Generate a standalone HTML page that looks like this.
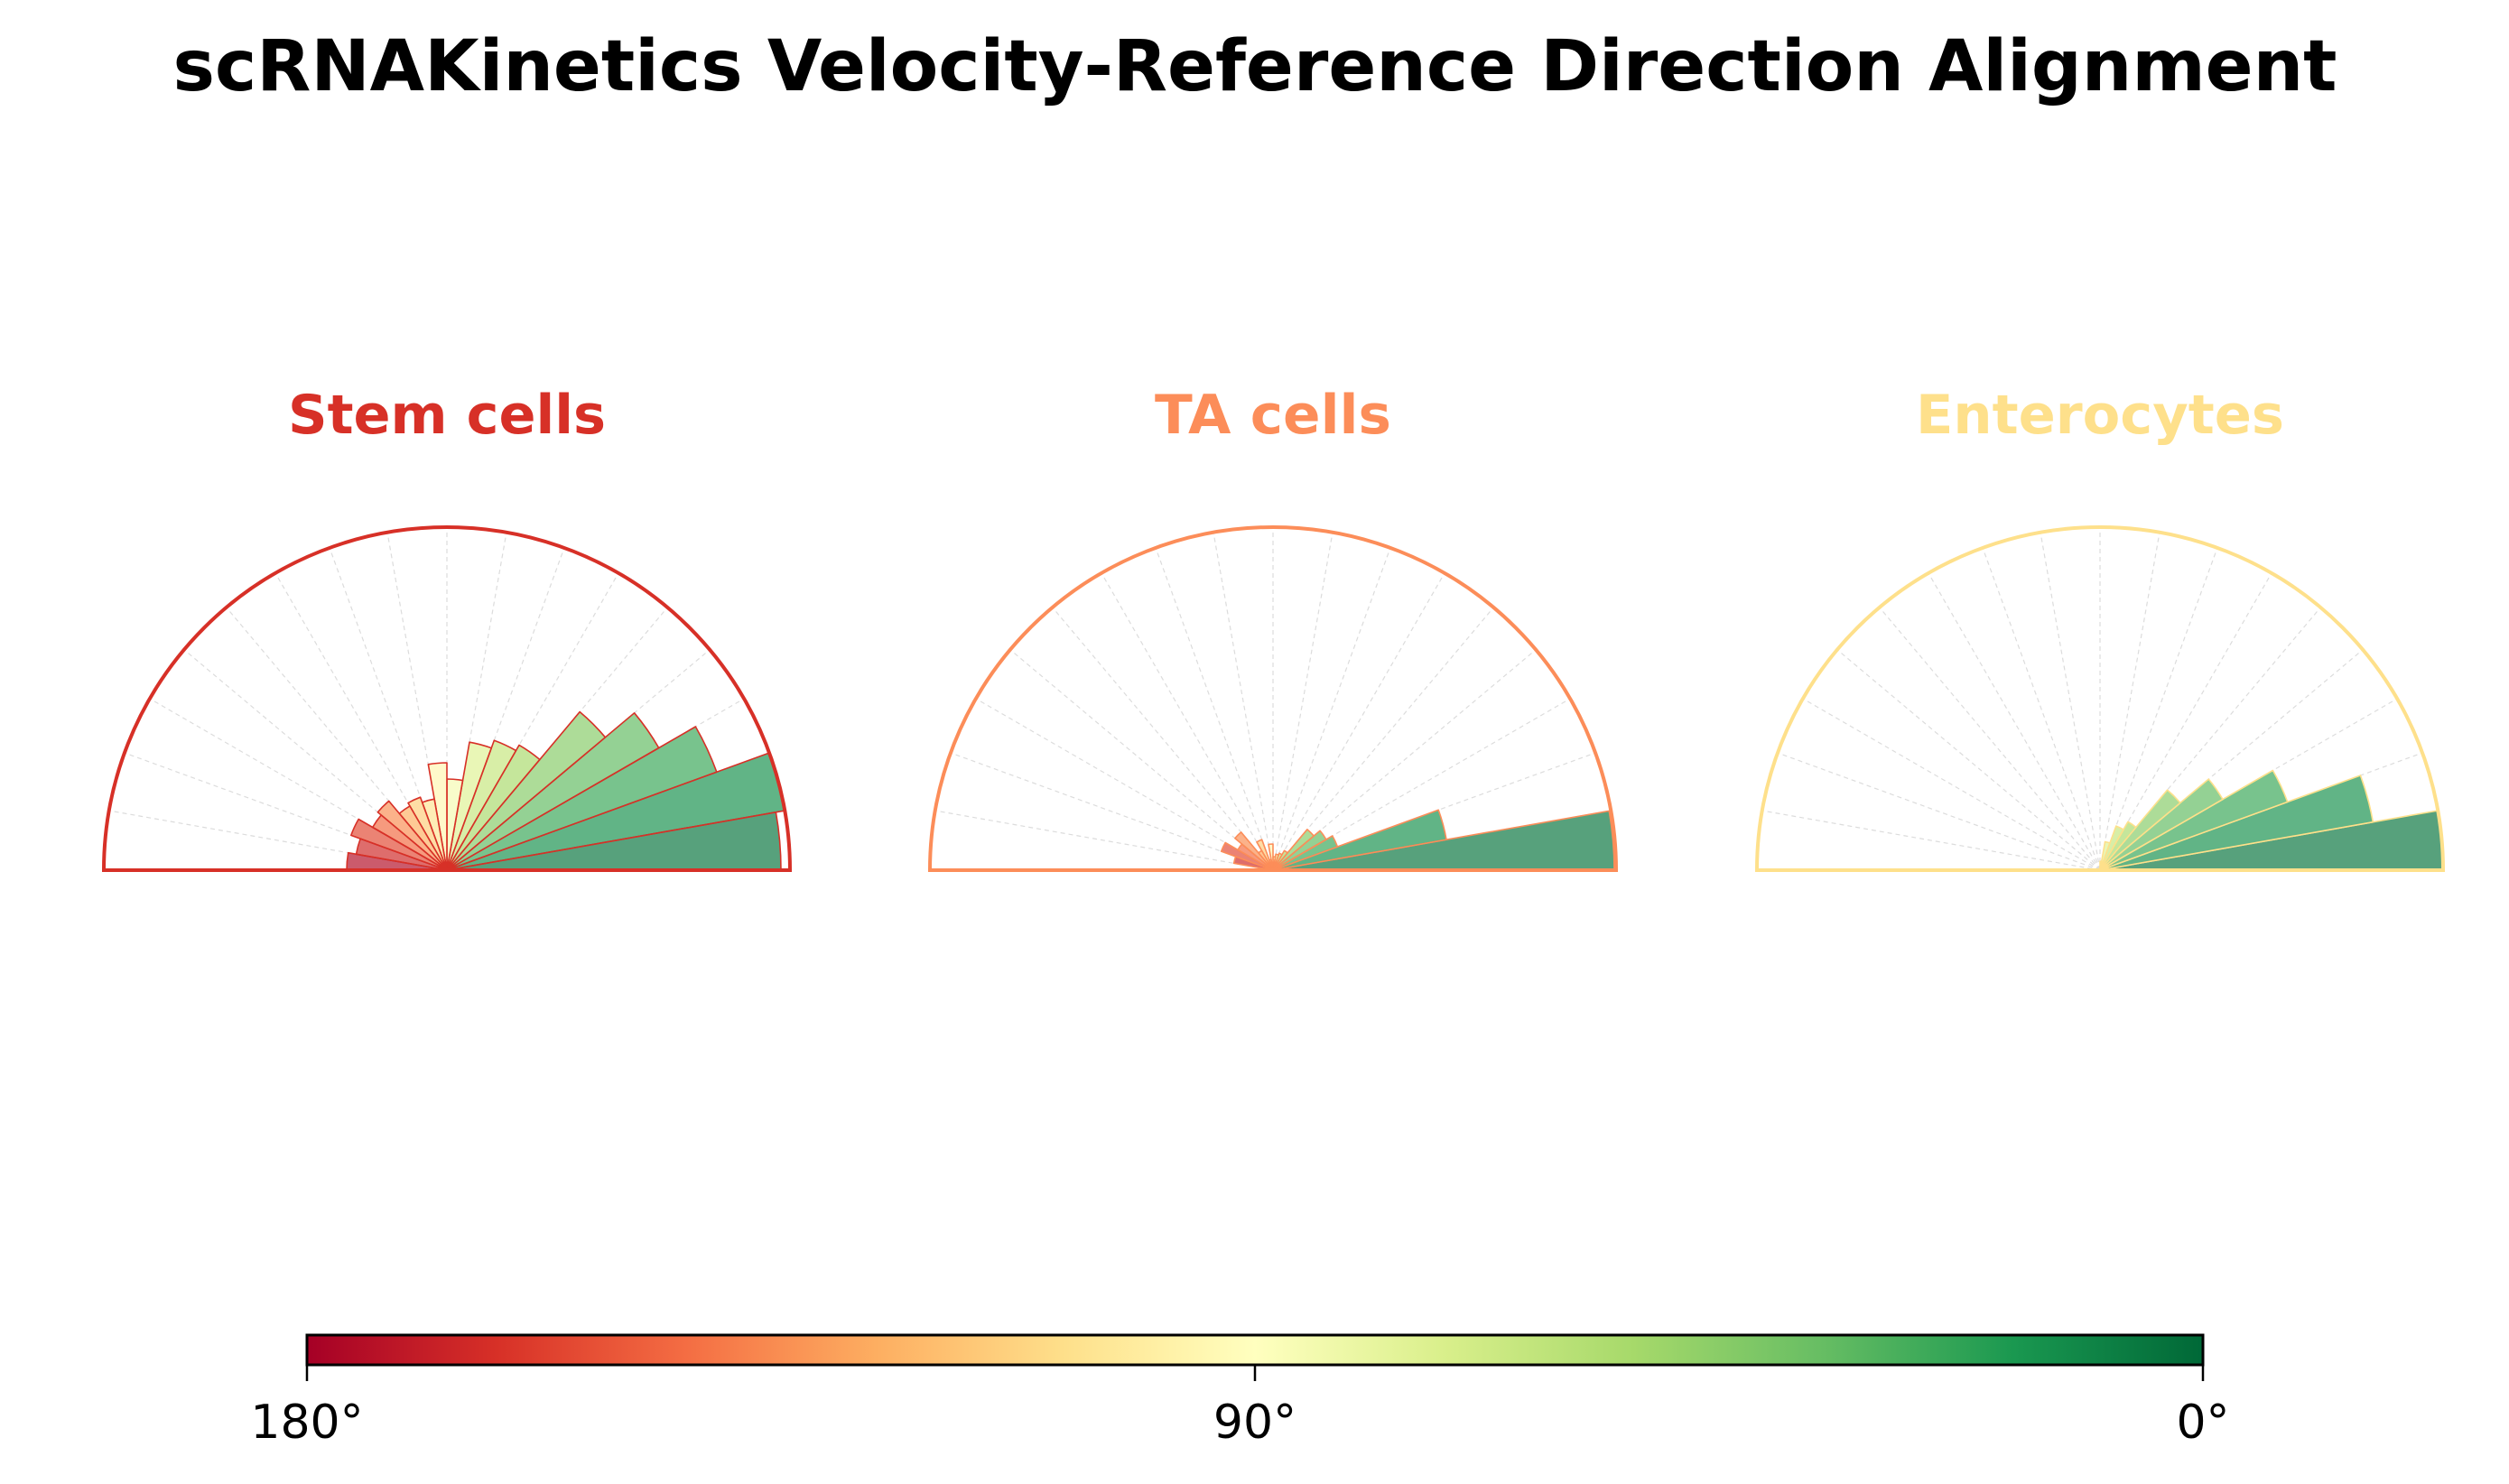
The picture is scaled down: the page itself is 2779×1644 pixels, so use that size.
<!DOCTYPE html>
<html><head><meta charset="utf-8">
<style>
html,body{margin:0;padding:0;background:#fff;}
svg{display:block;font-family:"DejaVu Sans","Liberation Sans",sans-serif;}
</style></head>
<body>
<svg id="chart" width="2779" height="1644" viewBox="0 0 2779 1644" xmlns="http://www.w3.org/2000/svg">
<defs>
<linearGradient id="cbgrad" x1="0" y1="0" x2="1" y2="0"></linearGradient>
</defs>
<text x="1390" y="100" text-anchor="middle" font-size="78" font-weight="bold" fill="#000" textLength="2397" lengthAdjust="spacingAndGlyphs">scRNAKinetics Velocity-Reference Direction Alignment</text>
<g id="panels"></g>
<g id="colorbar"></g>
</svg>
<script>
// bin edges in degrees (0..180, 10° bins)
const binStarts = [0,10,20,30,40,50,60,70,80,90,100,110,120,130,140,150,160,170];
const panelNames = ["Stem cells","TA cells","Enterocytes"];
const stemCounts = [370,379,318,271,229,160,153,144,101,119,80,86,82,100,95,113,102,111];
const taCounts   = [378,195,76,68,59,25,20,18,15,29,12,36,25,55,45,61,44,15];
const enteroCounts = [380,307,221,157,116,62,52,32,10,3,0,0,0,0,0,0,0,0];
const rMax = 380;
const cbTicks = ["180°","90°","0°"];
const cbTickValues = [180,90,0];

const panelCounts = [stemCounts, taCounts, enteroCounts];
const panelColors = ["#d73027","#fc8d59","#fee08b"];
const centersX = [495,1410,2326];
const baseY = 964, R = 380;
const NS = "http://www.w3.org/2000/svg";

const stops = ["#a50026","#d73027","#f46d43","#fdae61","#fee08b","#ffffbf","#d9ef8b","#a6d96a","#66bd63","#1a9850","#006837"];
function hex(c){return [1,3,5].map(i=>parseInt(c.substr(i,2),16));}
function cmap(t){
  t=Math.max(0,Math.min(1,t));
  const p=t*(stops.length-1), i=Math.min(Math.floor(p),stops.length-2), f=p-i;
  const a=hex(stops[i]), b=hex(stops[i+1]);
  return "rgb("+a.map((v,k)=>Math.round(v+(b[k]-v)*f)).join(",")+")";
}
function el(tag, attrs, parent){
  const e=document.createElementNS(NS,tag);
  for(const k in attrs) e.setAttribute(k,attrs[k]);
  parent.appendChild(e); return e;
}
function angleToXY(cx, deg, r){ const a=deg*Math.PI/180; return [cx+r*Math.cos(a), baseY-r*Math.sin(a)]; }
function rScale(v){ return v/rMax*R; }

const panelsG=document.getElementById("panels");
panelNames.forEach((name,pi)=>{
  const cx=centersX[pi], col=panelColors[pi];
  const g=el("g",{},panelsG);
  
  
  const t=el("text",{x:cx,y:480,"text-anchor":"middle","font-size":60,"font-weight":"bold",fill:col,textLength:(pi==2?408:(pi==1?262:352)),lengthAdjust:"spacingAndGlyphs"},g);
  t.textContent=name;
  
  
  // gridlines
  for(let d=10; d<180; d+=10){
    const [x,y]=angleToXY(cx,d,R);
    const ln=el("line",{x1:cx,y1:baseY,x2:x,y2:y,stroke:"#dcdcdc","stroke-width":1.2,"stroke-dasharray":"5,4"},g);
    
    
  }
  // bars
  panelCounts[pi].forEach((v,bi)=>{
    if(v<=0) return;
    const a0=binStarts[bi], a1=a0+10, r=rScale(v);
    const [x0,y0]=angleToXY(cx,a0,r), [x1,y1]=angleToXY(cx,a1,r);
    const p=el("path",{d:`M${cx},${baseY} L${x0},${y0} A${r},${r} 0 0 0 ${x1},${y1} Z`,
      fill:cmap(1-(a0+5)/180),"fill-opacity":0.68,stroke:col,"stroke-width":1.6,"stroke-linejoin":"round"},g);
    
    
  });
  // frame
  const fr=el("path",{d:`M${cx-R},${baseY} A${R},${R} 0 0 1 ${cx+R},${baseY} Z`,fill:"none",stroke:col,"stroke-width":4},g);
  
  
});

// colorbar
const grad=document.getElementById("cbgrad");
for(let i=0;i<=20;i++){
  const s=el("stop",{offset:(i/20),"stop-color":cmap(i/20)},grad);
}
const cb=document.getElementById("colorbar");
const cbX0=340, cbX1=2440, cbY0=1479, cbY1=1512;
function cbScale(deg){ return cbX0+(180-deg)/180*(cbX1-cbX0); }
const rect=el("rect",{x:cbX0,y:cbY0,width:cbX1-cbX0,height:cbY1-cbY0,fill:"url(#cbgrad)",stroke:"#000","stroke-width":3},cb);


cbTickValues.forEach((v,i)=>{
  const x=cbScale(v);
  const tk=el("line",{x1:x,y1:cbY1,x2:x,y2:cbY1+18,stroke:"#000","stroke-width":2.5},cb);
  
  
  const lb=el("text",{x:x,y:1593,"text-anchor":"middle","font-size":52,fill:"#000"},cb);
  lb.textContent=cbTicks[i];
  
  
});
</script>
</body></html>
